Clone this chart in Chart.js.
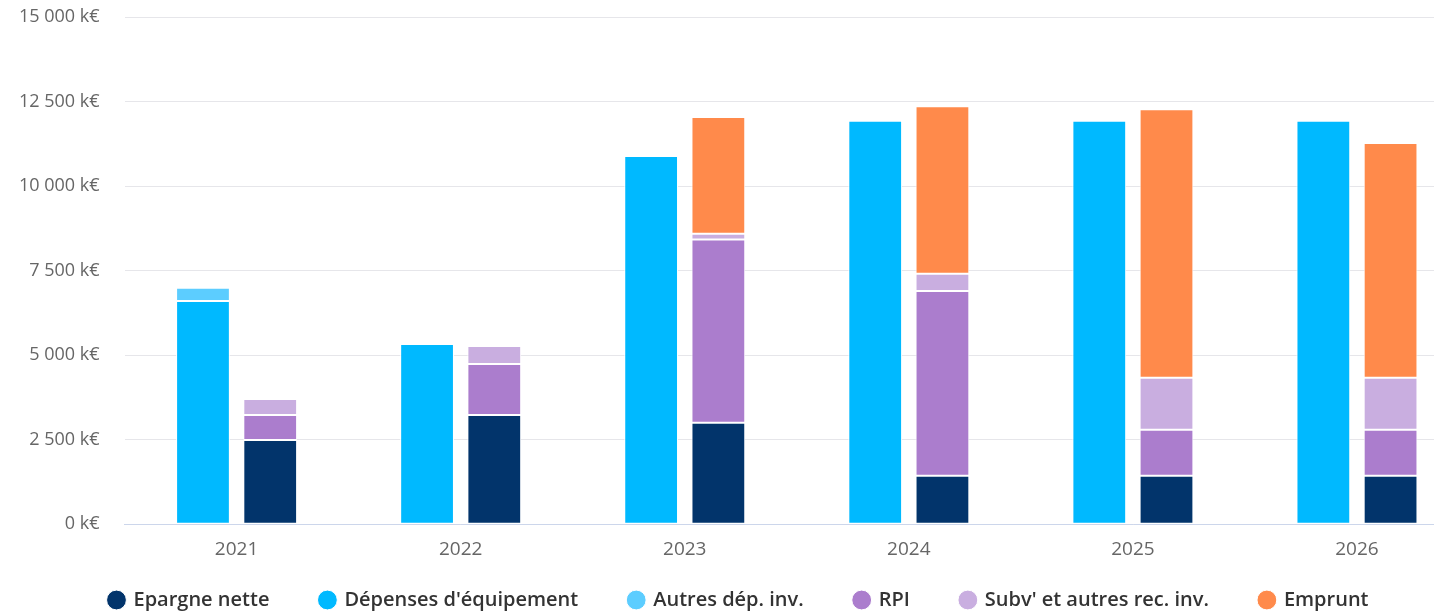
<!DOCTYPE html>
<html>
<head>
<meta charset="utf-8">
<script src="https://cdn.jsdelivr.net/npm/chart.js@4/dist/chart.umd.min.js"></script>
<style>
  html, body { margin: 0; padding: 0; background: #ffffff; overflow: hidden; }
  #wrap { width: 1476px; height: 611px; position: relative; }
</style>
</head>
<body>
<div id="wrap"><canvas id="c"></canvas></div>
<script>
const categories = ['2021', '2022', '2023', '2024', '2025', '2026'];
const epargneNette = [2490, 3230, 3000, 1430, 1430, 1430];
const depensesEquipement = [6600, 5330, 10890, 11930, 11930, 11930];
const autresDepInv = [390, 0, 0, 0, 0, 0];
const rpi = [740, 1510, 5420, 5470, 1360, 1360];
const subvAutresRec = [470, 530, 170, 510, 1540, 1540];
const emprunt = [0, 0, 3450, 4950, 7940, 6940];
const yTicks = [0, 2500, 5000, 7500, 10000, 12500, 15000];

// legend order
const seriesNames = ['Epargne nette', "Dépenses d'équipement", 'Autres dép. inv.', 'RPI', "Subv' et autres rec. inv.", 'Emprunt'];
const seriesColors = ['#02346b', '#00b9ff', '#5ccdff', '#ab7dcd', '#c9aee0', '#ff8a4b'];
const seriesData = [epargneNette, depensesEquipement, autresDepInv, rpi, subvAutresRec, emprunt];
const seriesStack = ['ress', 'dep', 'dep', 'ress', 'ress', 'ress'];
// drawing order (expense stack first so it sits on the left)
const drawOrder = [1, 2, 0, 3, 4, 5];

function fmt(v) {
  return String(v).replace(/\B(?=(\d{3})+(?!\d))/g, ' ') + ' k€';
}

const datasets = drawOrder.map((i) => ({
  label: seriesNames[i],
  data: seriesData[i],
  backgroundColor: seriesColors[i],
  borderColor: '#ffffff',
  borderWidth: 1,
  borderSkipped: false,
  stack: seriesStack[i],
  categoryPercentage: 0.6,
  barPercentage: 0.8
}));

const LEGEND_PAD = 51;
const LEGEND_FONT = 20;
const LEGEND_HEIGHT = 47;
const LEGEND_CENTER = 36;
const LEGEND_SHIFT_X = -5;

const legendSpacing = {
  id: 'legendSpacing',
  beforeUpdate(chart) {
    const L = chart.legend;
    if (!L || L._patched) return;
    L._patched = true;
    const fit0 = L.fit;
    L.fit = function () {
      fit0.call(this);
      if (this.isHorizontal()) this.height = LEGEND_HEIGHT;
    };
    const draw0 = L.draw;
    L.draw = function () {
      const shift = LEGEND_CENTER - LEGEND_PAD - LEGEND_FONT / 2;
      this.top += shift;
      this.left += LEGEND_SHIFT_X;
      this.right += LEGEND_SHIFT_X;
      draw0.apply(this, arguments);
      this.top -= shift;
      this.left -= LEGEND_SHIFT_X;
      this.right -= LEGEND_SHIFT_X;
    };
  }
};

new Chart(document.getElementById('c'), {
  type: 'bar',
  data: { labels: categories, datasets },
  plugins: [legendSpacing],
  options: {
    responsive: true,
    maintainAspectRatio: false,
    animation: false,
    layout: { padding: { top: 17, right: 7, left: 19, bottom: 0 } },
    plugins: {
      tooltip: { enabled: false },
      legend: {
        position: 'bottom',
        labels: {
          usePointStyle: true,
          pointStyle: 'circle',
          boxWidth: 14,
          boxHeight: 14,
          padding: LEGEND_PAD,
          color: '#333333',
          font: { family: 'Open Sans', size: LEGEND_FONT, weight: '600' },
          sort: (a, b) => seriesNames.indexOf(a.text) - seriesNames.indexOf(b.text)
        }
      }
    },
    scales: {
      x: {
        stacked: true,
        grid: { display: true, color: 'rgba(0,0,0,0)', drawTicks: true, tickLength: 11, tickColor: 'rgba(0,0,0,0)' },
        border: { display: true, color: '#ccd6eb', width: 1 },
        ticks: { color: '#666666', padding: 3, font: { family: 'Open Sans', size: 19 } }
      },
      y: {
        stacked: true,
        min: 0,
        max: 15000,
        afterBuildTicks: (axis) => { axis.ticks = yTicks.map(v => ({ value: v })); },
        grid: { color: '#e6e6ea', drawTicks: true, tickLength: 25, tickColor: 'rgba(0,0,0,0)' },
        border: { display: false },
        ticks: {
          color: '#666666',
          padding: 0,
          font: { family: 'Open Sans', size: 18 },
          callback: (v) => fmt(v)
        }
      }
    }
  }
});
</script>
</body>
</html>
